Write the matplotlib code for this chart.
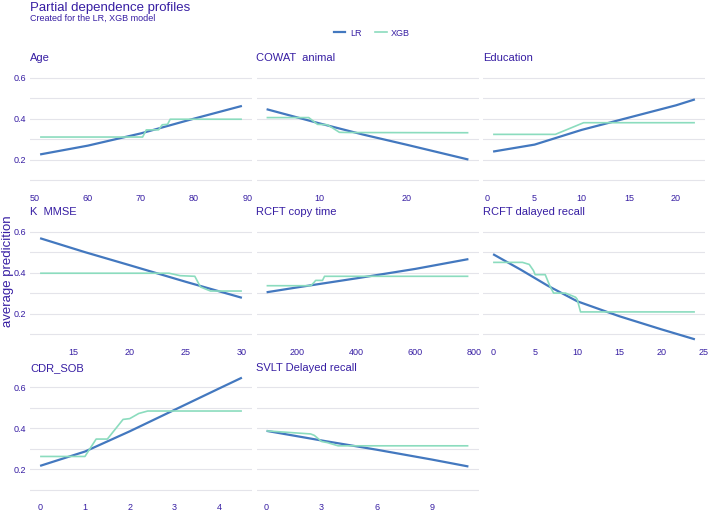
import matplotlib
matplotlib.use("Agg")
import matplotlib.pyplot as plt
from matplotlib.lines import Line2D

plt.rcParams['font.family'] = ['Liberation Sans', 'DejaVu Sans']

TXT = "#371ea3"
C_LR = "#4378bf"
C_XGB = "#8bdcbe"
GRID = "#e4e4ea"

# ---------------- data ----------------
panel_titles = ["Age", "COWAT  animal", "Education",
                "K  MMSE", "RCFT copy time", "RCFT dalayed recall",
                "CDR_SOB", "SVLT Delayed recall"]

age_lr_x = [51, 60, 70, 80, 89]
age_lr_y = [0.225, 0.268, 0.328, 0.400, 0.462]
age_xgb_x = [51, 70.3, 71.0, 73.3, 74.0, 75.0, 75.5, 89]
age_xgb_y = [0.310, 0.310, 0.345, 0.345, 0.370, 0.372, 0.397, 0.397]

cowat_lr_x = [4, 10, 15, 20, 27]
cowat_lr_y = [0.446, 0.377, 0.322, 0.272, 0.200]
cowat_xgb_x = [4, 8.8, 9.8, 10.9, 11.5, 12.3, 13.5, 27]
cowat_xgb_y = [0.405, 0.405, 0.372, 0.370, 0.355, 0.333, 0.332, 0.331]

edu_lr_x = [0.6, 5, 10, 15, 20, 22]
edu_lr_y = [0.239, 0.273, 0.345, 0.405, 0.465, 0.494]
edu_xgb_x = [0.6, 7.2, 10.2, 22]
edu_xgb_y = [0.323, 0.323, 0.380, 0.380]

mmse_lr_x = [12, 16, 20, 25, 30]
mmse_lr_y = [0.568, 0.500, 0.436, 0.355, 0.277]
mmse_xgb_x = [12, 23.5, 24.5, 25.8, 26.3, 27.2, 30]
mmse_xgb_y = [0.397, 0.397, 0.385, 0.382, 0.330, 0.310, 0.310]

copy_lr_x = [95, 200, 400, 600, 781]
copy_lr_y = [0.304, 0.328, 0.372, 0.418, 0.466]
copy_xgb_x = [95, 245, 255, 262, 285, 292, 781]
copy_xgb_y = [0.336, 0.336, 0.350, 0.362, 0.362, 0.382, 0.382]

rdr_lr_x = [0, 3.3, 6.5, 10, 15, 20, 24]
rdr_lr_y = [0.490, 0.414, 0.336, 0.260, 0.187, 0.123, 0.074]
rdr_xgb_x = [0, 3.5, 4.3, 4.8, 5.0, 6.2, 6.8, 7.2, 8.6, 9.8, 10.0, 10.4, 24]
rdr_xgb_y = [0.450, 0.450, 0.440, 0.410, 0.390, 0.390, 0.330, 0.300, 0.300,
             0.280, 0.270, 0.208, 0.208]

cdr_lr_x = [0, 1, 2, 3, 4, 4.5]
cdr_lr_y = [0.216, 0.286, 0.385, 0.490, 0.595, 0.647]
cdr_xgb_x = [0, 1.0, 1.25, 1.5, 1.85, 2.0, 2.2, 2.4, 4.5]
cdr_xgb_y = [0.262, 0.262, 0.347, 0.347, 0.443, 0.447, 0.472, 0.484, 0.484]

svlt_lr_x = [0, 3, 6, 9, 11]
svlt_lr_y = [0.387, 0.340, 0.295, 0.247, 0.213]
svlt_xgb_x = [0, 2.4, 2.6, 3.0, 3.3, 3.9, 11]
svlt_xgb_y = [0.387, 0.372, 0.365, 0.335, 0.330, 0.314, 0.314]

x_ticks = [[50, 60, 70, 80, 90], [10, 20], [0, 5, 10, 15, 20],
           [15, 20, 25, 30], [200, 400, 600, 800], [0, 5, 10, 15, 20, 25],
           [0, 1, 2, 3, 4], [0, 3, 6, 9]]

series = [
    (age_lr_x, age_lr_y, age_xgb_x, age_xgb_y),
    (cowat_lr_x, cowat_lr_y, cowat_xgb_x, cowat_xgb_y),
    (edu_lr_x, edu_lr_y, edu_xgb_x, edu_xgb_y),
    (mmse_lr_x, mmse_lr_y, mmse_xgb_x, mmse_xgb_y),
    (copy_lr_x, copy_lr_y, copy_xgb_x, copy_xgb_y),
    (rdr_lr_x, rdr_lr_y, rdr_xgb_x, rdr_xgb_y),
    (cdr_lr_x, cdr_lr_y, cdr_xgb_x, cdr_xgb_y),
    (svlt_lr_x, svlt_lr_y, svlt_xgb_x, svlt_xgb_y),
]

y_ticks = [0.2, 0.4, 0.6]
y_grid = [0.1, 0.2, 0.3, 0.4, 0.5, 0.6]
YLIM = (0.04, 0.68)

# ---------------- layout ----------------
FW, FH = 708, 513
fig = plt.figure(figsize=(FW / 100, FH / 100), dpi=100)
fig.patch.set_facecolor("white")

col_left = [30, 256.5, 483]
row_top = [61.3, 215.3, 370.9]
PW, PH = 222, 131

for i, (lx, ly, xx, xy) in enumerate(series):
    r, c = divmod(i, 3)
    L, T = col_left[c], row_top[r]
    ax = fig.add_axes([L / FW, 1 - (T + PH) / FH, PW / FW, PH / FH])
    for s in ax.spines.values():
        s.set_visible(False)
    for g in y_grid:
        ax.axhline(g, color=GRID, lw=0.8, zorder=0)
    ax.plot(lx, ly, color=C_LR, lw=1.6, zorder=2, solid_capstyle='butt')
    ax.plot(xx, xy, color=C_XGB, lw=1.2, zorder=3, solid_capstyle='butt')
    allx = lx + xx
    lo, hi = min(allx), max(allx)
    pad = 0.05 * (hi - lo)
    ax.set_xlim(lo - pad, hi + pad)
    ax.set_ylim(*YLIM)
    ax.set_xticks(x_ticks[i])
    ax.set_xticklabels([str(t) for t in x_ticks[i]])
    ax.set_yticks(y_ticks)
    if c == 0:
        ax.set_yticklabels([f"{t:.1f}" for t in y_ticks])
    else:
        ax.set_yticklabels([])
    ax.tick_params(length=0, labelsize=6.5, labelcolor=TXT, pad=2.5)
    ax.tick_params(axis='x', pad=1)
    ax.text(0, 1.0, panel_titles[i], transform=ax.transAxes, ha='left',
            va='baseline', fontsize=8, color=TXT)
    ax.set_facecolor("white")

fig.text(30 / FW, 1 - 10.5 / FH, "Partial dependence profiles", fontsize=9.5,
         color=TXT, ha='left', va='baseline')
fig.text(30 / FW, 1 - 21 / FH, "Created for the LR, XGB model", fontsize=6.5,
         color=TXT, ha='left', va='baseline')
fig.text(8 / FW, 1 - 271 / FH, "average predicition", rotation=90,
         fontsize=9.5, color=TXT, ha='center', va='center')

handles = [Line2D([], [], color=C_LR, lw=1.6), Line2D([], [], color=C_XGB, lw=1.2)]
leg = fig.legend(handles, ["LR", "XGB"], loc='center',
                 bbox_to_anchor=(372 / FW, 1 - 33 / FH), ncol=2, frameon=False,
                 fontsize=6.5, handlelength=1.3, columnspacing=1.5,
                 handletextpad=0.5)
for t in leg.get_texts():
    t.set_color(TXT)

fig.savefig("out.png", dpi=100, facecolor="white")
